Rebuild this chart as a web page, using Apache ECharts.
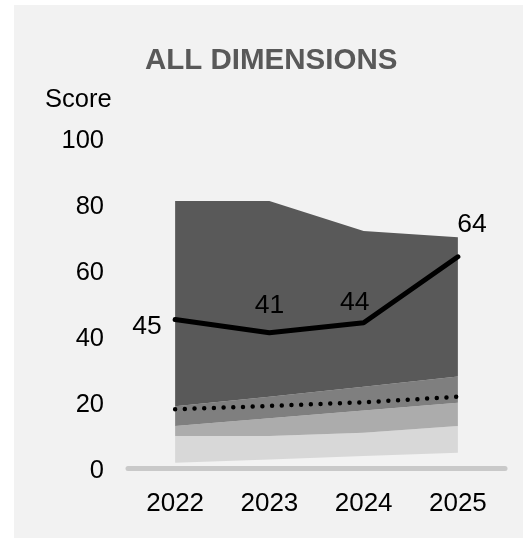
<!DOCTYPE html>
<html>
<head>
<meta charset="utf-8">
<script src="https://cdn.jsdelivr.net/npm/echarts@6/dist/echarts.min.js"></script>
<style>
html,body{margin:0;padding:0;background:#ffffff;}
#chart{width:523px;height:538px;}
</style>
</head>
<body>
<div id="chart"></div>
<script>
// ---- data ----
const years = ['2022', '2023', '2024', '2025'];
const yTicks = [0, 20, 40, 60, 80, 100];
// band boundaries (bottom to top)
const bandFloor = [1.6, 2.6, 3.6, 4.6];
const band1Top  = [9.7, 9.7, 10.7, 12.7];
const band2Top  = [12.7, 15.1, 17.4, 19.8];
const band3Top  = [18.7, 21.6, 24.6, 27.7];
const band4Top  = [80.9, 80.9, 71.8, 69.9];
// dotted reference line
const referenceLine = [17.8, 18.8, 19.9, 21.6];
// overall score line
const scores = [45, 41, 44, 64];

const bandColors = ['#d8d8d8', '#acacac', '#7f7f7f', '#595959'];
const diff = (a, b) => a.map((v, i) => +(v - b[i]).toFixed(3));
const tops = [band1Top, band2Top, band3Top, band4Top];
const lowers = [bandFloor, band1Top, band2Top, band3Top];

const series = [{
  type: 'line', stack: 'bands', data: bandFloor, symbol: 'none', silent: true,
  lineStyle: { width: 0, opacity: 0 }, areaStyle: { opacity: 0 }
}];
tops.forEach((t, k) => {
  series.push({
    type: 'line', stack: 'bands', data: diff(t, lowers[k]), symbol: 'none', silent: true,
    lineStyle: { width: 0, opacity: 0 },
    areaStyle: { color: bandColors[k], opacity: 1 }
  });
});
series.push({
  type: 'line', data: referenceLine, symbol: 'none', silent: true, z: 5,
  lineStyle: { color: '#000000', width: 4.5, type: [0, 9.7], cap: 'round' }
});
const labelCfg = [
  { position: 'left', distance: 13, offset: [0, 7] },
  { position: 'top', distance: 13, offset: [0, 0] },
  { position: 'top', distance: 6, offset: [-9, 0] },
  { position: 'top', distance: 18, offset: [14, 0] }
];
series.push({
  type: 'line', z: 6, silent: true,
  data: scores.map((v, i) => ({ value: v, label: labelCfg[i] })),
  symbol: 'circle', symbolSize: 1, showSymbol: true,
  itemStyle: { color: '#000000' },
  lineStyle: { color: '#000000', width: 5, cap: 'round', join: 'round' },
  label: { show: true, color: '#000000', fontSize: 26.5, fontFamily: 'Liberation Sans, Arial, sans-serif' }
});

const chart = echarts.init(document.getElementById('chart'), null, { renderer: 'canvas' });
chart.setOption({
  animation: false,
  backgroundColor: '#ffffff',
  textStyle: { fontFamily: 'Liberation Sans, Arial, sans-serif' },
  graphic: [{
    type: 'rect', z: -10, silent: true,
    shape: { x: 14, y: 5, width: 509, height: 533 },
    style: { fill: '#f2f2f2' }
  }],
  title: [{
    text: 'ALL DIMENSIONS', left: 145, top: 46, padding: 0,
    textStyle: { color: '#595959', fontSize: 29.5, fontWeight: 'bold', fontFamily: 'Liberation Sans, Arial, sans-serif' }
  }, {
    text: 'Score', left: 45, top: 87, padding: 0,
    textStyle: { color: '#000000', fontSize: 25.5, fontWeight: 'normal', fontFamily: 'Liberation Sans, Arial, sans-serif' }
  }],
  grid: { left: 128, right: 18, top: 138, bottom: 70, containLabel: false },
  xAxis: {
    type: 'category', data: years, boundaryGap: true,
    axisLine: { show: true, lineStyle: { color: '#c9c9c9', width: 5 } },
    axisTick: { show: false },
    axisLabel: { color: '#000000', fontSize: 26, margin: 23, fontFamily: 'Liberation Sans, Arial, sans-serif' },
    splitLine: { show: false }
  },
  yAxis: {
    type: 'value', min: yTicks[0], max: yTicks[yTicks.length - 1], interval: yTicks[1] - yTicks[0],
    axisLine: { show: false }, axisTick: { show: false },
    axisLabel: { color: '#000000', fontSize: 25.5, margin: 24, verticalAlign: 'top', lineHeight: 5, fontFamily: 'Liberation Sans, Arial, sans-serif' },
    splitLine: { show: false }
  },
  series: series
});
</script>
</body>
</html>
